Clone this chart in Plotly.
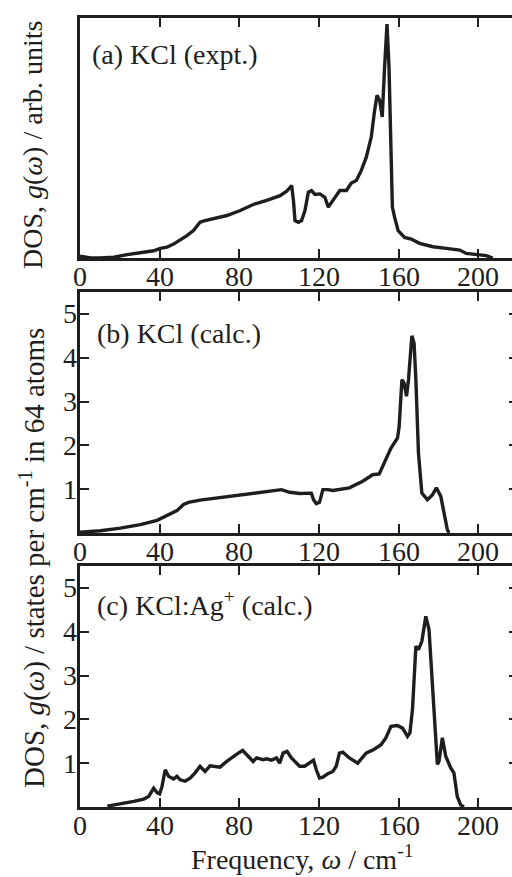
import plotly.graph_objects as go

# ---------------- data ----------------
freq_a = [0, 5.3, 10, 17, 23.7, 30, 37, 40.3, 43.7, 47, 50.3, 53.7, 57, 58.7, 60.3, 62.8, 67,
          73.8, 80.5, 87, 93.8, 100.5, 103.8, 106.3, 107.2, 108, 109.7, 111.3, 113, 114.7,
          116.3, 118, 120.5, 123, 124.7, 127.2, 130.5, 133.8, 136.3, 138.8, 141.3, 143.8,
          146.3, 148, 149.2, 150.5, 151.8, 153, 154.2, 155.2, 155.9, 156.9, 158, 159.8, 163,
          166.4, 170.5, 177.3, 184, 190.7, 194, 200.7, 204, 207.3]
dos_a = [0.008, 0.0, 0.0, 0.003, 0.014, 0.02, 0.03, 0.04, 0.045, 0.058, 0.075, 0.093, 0.114,
         0.135, 0.149, 0.156, 0.163, 0.177, 0.198, 0.223, 0.24, 0.26, 0.278, 0.302, 0.24,
         0.156, 0.149, 0.156, 0.198, 0.274, 0.281, 0.265, 0.267, 0.253, 0.212, 0.24, 0.281,
         0.281, 0.312, 0.323, 0.365, 0.42, 0.504, 0.616, 0.678, 0.657, 0.588, 0.797, 0.975,
         0.797, 0.518, 0.212, 0.17, 0.114, 0.086, 0.079, 0.061, 0.047, 0.04, 0.033, 0.019,
         0.014, 0.01, 0.0]

freq_b = [0, 10.3, 20.3, 30.3, 38.7, 43.7, 48.7, 52, 54.5, 60.3, 68.7, 77, 85.3, 93.7, 101.2,
          105.3, 110.3, 116.2, 117.3, 118.7, 120.3, 122, 124.5, 127, 135.3, 142, 147, 150.3,
          153.7, 156.2, 159.5, 160.3, 161.7, 162.8, 164, 165, 166.7, 167.8, 168.7, 170, 171.7,
          174.5, 177, 179, 181.2, 182.8, 184.5, 185.3]
dos_b = [0.02, 0.05, 0.11, 0.19, 0.29, 0.40, 0.51, 0.65, 0.70, 0.75, 0.80, 0.85, 0.90, 0.94,
         0.99, 0.93, 0.90, 0.91, 0.76, 0.67, 0.70, 0.99, 0.99, 0.97, 1.03, 1.18, 1.33, 1.35,
         1.67, 1.94, 2.17, 2.43, 3.50, 3.42, 3.12, 3.50, 4.50, 4.33, 3.50, 1.83, 0.91, 0.76,
         0.87, 1.03, 0.84, 0.46, 0.08, 0.0]

freq_c = [13.7, 20.3, 27, 32, 34.5, 37, 38.7, 40, 41.2, 42.8, 44.5, 47, 48.7, 50.3, 52.8,
          55.3, 57.8, 60.3, 62.8, 65.3, 67.8, 70.3, 73.7, 77, 79.5, 81.7, 84.5, 87, 88.7, 92,
          93.7, 96.2, 98.7, 100.3, 102, 104, 106.2, 108.7, 110.3, 112.8, 115.3, 117.3, 118.7,
          120.3, 122, 124.5, 127, 128.7, 130.3, 132, 135.3, 139.5, 143.7, 147.8, 151.2, 153.7,
          156.2, 159.5, 162, 164.5, 165.7, 167, 168.7, 170, 171.7, 173.7, 175.3, 176.2, 177.8,
          179.5, 180.3, 182, 183.7, 186.2, 187.8, 189.5, 191.2, 192.8]
dos_c = [0.02, 0.07, 0.13, 0.18, 0.24, 0.43, 0.33, 0.30, 0.47, 0.85, 0.70, 0.64, 0.70, 0.62,
         0.59, 0.66, 0.78, 0.93, 0.81, 0.94, 0.93, 0.91, 1.04, 1.16, 1.23, 1.29, 1.16, 1.04,
         1.12, 1.08, 1.10, 1.07, 1.12, 1.00, 1.23, 1.27, 1.12, 1.02, 0.93, 0.93, 1.00, 1.07,
         0.85, 0.66, 0.68, 0.76, 0.81, 0.93, 1.23, 1.25, 1.12, 1.00, 1.23, 1.32, 1.42, 1.58,
         1.84, 1.86, 1.80, 1.61, 1.69, 2.22, 3.67, 3.59, 3.78, 4.35, 4.05, 3.36, 2.15, 0.97,
         1.04, 1.58, 1.16, 0.89, 0.78, 0.24, 0.05, 0.0]

x_ticks = [0, 40, 80, 120, 160, 200]
y_ticks = [1, 2, 3, 4, 5]

panel_labels = ["(a) KCl (expt.)", "(b) KCl (calc.)", "(c) KCl:Ag<sup>+</sup> (calc.)"]
ytitle_a = "DOS, <i>g</i>(<i>ω</i>) / arb. units"
ytitle_bc = "DOS, <i>g</i>(<i>ω</i>) / states per cm<sup>-1</sup> in 64 atoms"
xtitle = "Frequency, <i>ω</i> / cm<sup>-1</sup>"

# ---------------- styling ----------------
INK = "#1e1e1e"
FONT = "Liberation Serif, Times New Roman, serif"
FS = 28
W, H = 520, 877
L, R = 80, 2
PW = W - L - R


def dom(top, bottom):
    return [(H - bottom) / H, (H - top) / H]


def px_x(px):
    return (px - L) / PW


def px_y(py):
    return (H - py) / H


fig = go.Figure()
for xs, ys, xa, ya in [(freq_a, dos_a, "x", "y"), (freq_b, dos_b, "x2", "y2"),
                       (freq_c, dos_c, "x3", "y3")]:
    fig.add_trace(go.Scatter(x=xs, y=ys, xaxis=xa, yaxis=ya, mode="lines",
                             line=dict(color=INK, width=3.4), showlegend=False,
                             hoverinfo="skip"))

xbase = dict(range=[0, 220], tickvals=x_ticks, ticks="inside", ticklen=9, tickwidth=1.5,
             tickcolor=INK, showline=True, linewidth=3, linecolor=INK, mirror="ticks",
             showgrid=False, zeroline=False, showticklabels=False)
ybase = dict(range=[0, 5.5], tickvals=y_ticks, ticks="inside", ticklen=9, tickwidth=1.5,
             tickcolor=INK, showline=True, linewidth=3, linecolor=INK, mirror="ticks",
             showgrid=False, zeroline=False, showticklabels=False)

doms = [dom(18, 258), dom(292, 533), dom(566, 807)]

layout = dict(
    width=W, height=H, margin=dict(l=L, r=R, t=0, b=0),
    paper_bgcolor="white", plot_bgcolor="white", showlegend=False,
    xaxis=dict(xbase, anchor="y"),
    xaxis2=dict(xbase, anchor="y2"),
    xaxis3=dict(xbase, anchor="y3"),
    yaxis=dict(range=[0, 1.0], showticklabels=False, ticks="", showline=True, linewidth=3,
               linecolor=INK, mirror=True, showgrid=False, zeroline=False,
               domain=doms[0], anchor="x"),
    yaxis2=dict(ybase, domain=doms[1], anchor="x2"),
    yaxis3=dict(ybase, domain=doms[2], anchor="x3"),
)
fig.update_layout(**layout)

tfont = dict(family=FONT, size=FS, color=INK)
annos = []
# tick labels placed through the axes' own scales
for xa, d in zip(["x", "x2", "x3"], doms):
    for v in x_ticks:
        annos.append(dict(text=str(v), x=v, xref=xa, y=d[0] - 18 / H, yref="paper",
                          xanchor="center", yanchor="middle", showarrow=False, font=tfont))
for ya in ["y2", "y3"]:
    for v in y_ticks:
        annos.append(dict(text=str(v), x=px_x(79), xref="paper", y=v, yref=ya,
                          xanchor="right", yanchor="middle", showarrow=False, font=tfont))

for lab, (lx, ly) in zip(panel_labels, [(90, 55), (95, 333), (95, 603)]):
    annos.append(dict(text=lab, x=px_x(lx), y=px_y(ly), xref="paper", yref="paper",
                      xanchor="left", yanchor="middle", showarrow=False, font=tfont))
annos.append(dict(text=ytitle_a, x=px_x(32), y=px_y(145), xref="paper", yref="paper",
                  xanchor="center", yanchor="middle", textangle=-90, showarrow=False,
                  font=tfont))
annos.append(dict(text=ytitle_bc, x=px_x(32), y=px_y(558), xref="paper", yref="paper",
                  xanchor="center", yanchor="middle", textangle=-90, showarrow=False,
                  font=dict(family=FONT, size=29, color=INK)))
annos.append(dict(text=xtitle, x=px_x(302), y=0, xref="paper", yref="paper",
                  xanchor="center", yanchor="bottom", showarrow=False, font=tfont))
fig.update_layout(annotations=annos)

fig.write_html("out.html", config={"displayModeBar": False},
               post_script="document.body.style.margin='0';document.body.style.overflow='hidden';")
